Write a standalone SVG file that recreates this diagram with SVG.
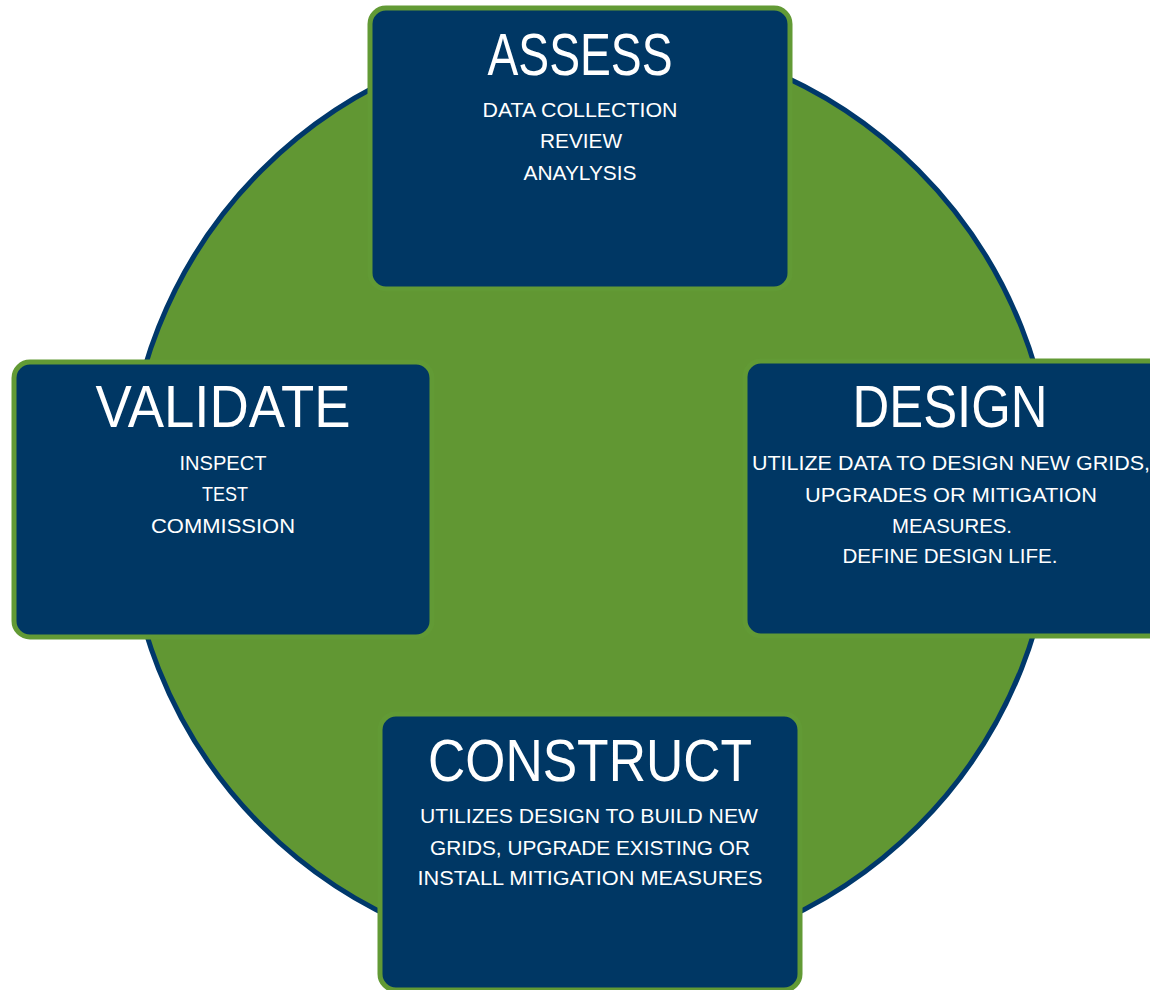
<svg xmlns="http://www.w3.org/2000/svg" width="1150" height="990" viewBox="0 0 1150 990">
<style>
.box{fill:#003764;stroke:#629a35;stroke-width:5}
.t{font-family:"Liberation Sans",Arial,sans-serif;fill:#ffffff;text-anchor:middle}
.h{font-size:60px}
.s{font-size:21px}
</style>
<rect x="0" y="0" width="1150" height="990" fill="#ffffff"/>
<g id="cycle">
<circle cx="590" cy="498" r="464" fill="#619733" stroke="#00386b" stroke-width="5"/>
</g>
<g id="assess">
<rect class="box" x="370" y="8" width="420" height="281" rx="16"/>
<text class="t h" x="580" y="75" textLength="185" lengthAdjust="spacingAndGlyphs">ASSESS</text>
<text class="t s" x="580" y="117" textLength="195" lengthAdjust="spacingAndGlyphs">DATA COLLECTION</text>
<text class="t s" x="581" y="148" textLength="82" lengthAdjust="spacingAndGlyphs">REVIEW</text>
<text class="t s" x="580" y="180" textLength="113" lengthAdjust="spacingAndGlyphs">ANAYLYSIS</text>
</g>
<g id="design">
<rect class="box" x="745" y="361" width="425" height="275" rx="16"/>
<text class="t h" x="950" y="427" textLength="195" lengthAdjust="spacingAndGlyphs">DESIGN</text>
<text class="t s" x="951" y="470" textLength="398" lengthAdjust="spacingAndGlyphs">UTILIZE DATA TO DESIGN NEW GRIDS,</text>
<text class="t s" x="951" y="502" textLength="292" lengthAdjust="spacingAndGlyphs">UPGRADES OR MITIGATION</text>
<text class="t s" x="952" y="533" textLength="120" lengthAdjust="spacingAndGlyphs">MEASURES.</text>
<text class="t s" x="950" y="563" textLength="215" lengthAdjust="spacingAndGlyphs">DEFINE DESIGN LIFE.</text>
</g>
<g id="construct">
<rect class="box" x="380" y="714" width="420" height="276" rx="16"/>
<text class="t h" x="590" y="781" textLength="324" lengthAdjust="spacingAndGlyphs">CONSTRUCT</text>
<text class="t s" x="589" y="823" textLength="338" lengthAdjust="spacingAndGlyphs">UTILIZES DESIGN TO BUILD NEW</text>
<text class="t s" x="590" y="855" textLength="320" lengthAdjust="spacingAndGlyphs">GRIDS, UPGRADE EXISTING OR</text>
<text class="t s" x="590" y="885" textLength="345" lengthAdjust="spacingAndGlyphs">INSTALL MITIGATION MEASURES</text>
</g>
<g id="validate">
<rect class="box" x="14" y="362" width="418" height="275" rx="16"/>
<text class="t h" x="223" y="427" textLength="255" lengthAdjust="spacingAndGlyphs">VALIDATE</text>
<text class="t s" x="223" y="470" textLength="87" lengthAdjust="spacingAndGlyphs">INSPECT</text>
<text class="t s" x="225" y="501" textLength="46" lengthAdjust="spacingAndGlyphs">TEST</text>
<text class="t s" x="223" y="533" textLength="144" lengthAdjust="spacingAndGlyphs">COMMISSION</text>
</g>
</svg>
